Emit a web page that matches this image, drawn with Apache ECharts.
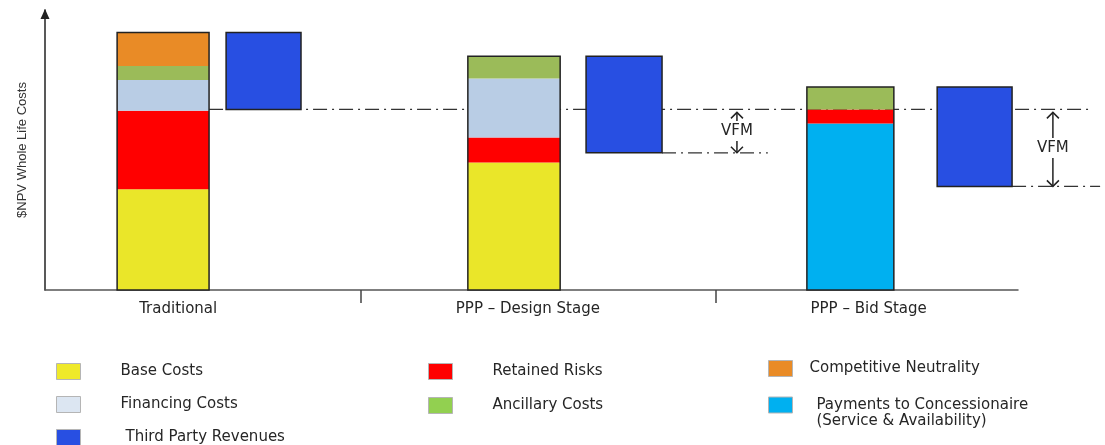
<!DOCTYPE html>
<html>
<head>
<meta charset="utf-8">
<script src="https://cdn.jsdelivr.net/npm/echarts@6/dist/echarts.min.js"></script>
<style>
  html, body { margin: 0; padding: 0; background: #fff; }
  #chart { width: 1105px; height: 445px; }
</style>
</head>
<body>
<div id="chart"></div>
<script>
// Whole-life cost build-up (NPV) for each procurement option
const stages = ['Traditional', 'PPP – Design Stage', 'PPP – Bid Stage'];
const baseCosts = [36, 45.5, 0];
const concessionPayments = [0, 0, 59.5];
const retainedRisks = [28, 9, 5];
const financingCosts = [11, 21, 0];
const ancillaryCosts = [5, 8, 8];
const competitiveNeutrality = [12, 0, 0];
const thirdPartyRevenues = [27.5, 34.5, 35.5];
const vfmLabel = 'VFM';
const yTitle = '$NPV Whole Life Costs';

// ---- layout (fractions of each stage slot on the x scale) ----
const costSlot = [[0.313, 0.572], [0.301, 0.561], [0.256, 0.501]];
const revenueSlot = [[0.620, 0.831], [0.634, 0.848], [0.623, 0.834]];
const labelAt = [0.485, 1.47, 2.43];
const netLineEnd = [3.048, 2.146, 3.082];
const vfmAt = [null, 2.059, 2.949];

const FONT = 'DejaVu Sans';
const INK = '#262626';
const OUTLINE = '#222';

const PAYMENTS = 'Payments to Concessionaire\n(Service & Availability)';
const components = [
  { name: 'Base Costs', values: baseCosts, color: '#EAE629' },
  { name: PAYMENTS, values: concessionPayments, color: '#00B0F0' },
  { name: 'Retained Risks', values: retainedRisks, color: '#FF0000' },
  { name: 'Financing Costs', values: financingCosts, color: '#B9CDE5' },
  { name: 'Ancillary Costs', values: ancillaryCosts, color: '#9BBB59' },
  { name: 'Competitive Neutrality', values: competitiveNeutrality, color: '#E98B26' }
];
const REVENUE_COLOR = '#284FE2';

const totals = stages.map((_, i) => components.reduce((s, c) => s + c.values[i], 0));
const netCost = totals.map((t, i) => t - thirdPartyRevenues[i]);
const psc = netCost[0];

function bottomOf(k, i) {
  let s = 0;
  for (let j = 0; j < k; j++) s += components[j].values[i];
  return s;
}

function rectBetween(api, x0, x1, y0, y1) {
  const a = api.coord([x0, y0]);
  const b = api.coord([x1, y1]);
  return { x: a[0], y: b[1], width: b[0] - a[0], height: a[1] - b[1] };
}

const stageData = stages.map((_, i) => [i]);
const dashStyle = { stroke: '#333', lineWidth: 1.3, lineDash: [14, 5, 2, 5] };

// one series per cost component, stacked inside each stage's cost bar
const componentSeries = components.map((c, k) => ({
  type: 'custom',
  name: c.name,
  xAxisIndex: 1,
  yAxisIndex: 1,
  z: 3,
  itemStyle: { color: c.color },
  data: stageData,
  renderItem: (params, api) => {
    const i = params.dataIndex;
    const v = c.values[i];
    if (!v) return null;
    const b = bottomOf(k, i);
    return {
      type: 'rect',
      shape: rectBetween(api, i + costSlot[i][0], i + costSlot[i][1], b, b + v),
      style: { fill: c.color }
    };
  }
}));

const outlineSeries = {
  type: 'custom',
  xAxisIndex: 1,
  yAxisIndex: 1,
  z: 4,
  silent: true,
  data: stageData,
  renderItem: (params, api) => {
    const i = params.dataIndex;
    return {
      type: 'rect',
      shape: rectBetween(api, i + costSlot[i][0], i + costSlot[i][1], 0, totals[i]),
      style: { fill: 'none', stroke: OUTLINE, lineWidth: 1.5 }
    };
  }
};

const revenueSeries = {
  type: 'custom',
  name: 'Third Party Revenues',
  xAxisIndex: 1,
  yAxisIndex: 1,
  z: 4,
  itemStyle: { color: REVENUE_COLOR },
  data: stageData,
  renderItem: (params, api) => {
    const i = params.dataIndex;
    return {
      type: 'rect',
      shape: rectBetween(api, i + revenueSlot[i][0], i + revenueSlot[i][1],
        netCost[i], totals[i]),
      style: { fill: REVENUE_COLOR, stroke: OUTLINE, lineWidth: 1.5 }
    };
  }
};

// net-cost reference lines and value-for-money markers
const referenceSeries = {
  type: 'custom',
  xAxisIndex: 1,
  yAxisIndex: 1,
  z: 1,
  silent: true,
  data: stageData,
  renderItem: (params, api) => {
    const i = params.dataIndex;
    const startX = i === 0 ? i + costSlot[i][1] : i + revenueSlot[i][1];
    const p0 = api.coord([startX, netCost[i]]);
    const p1 = api.coord([netLineEnd[i], netCost[i]]);
    const children = [{
      type: 'line',
      shape: { x1: p0[0], y1: p0[1], x2: p1[0], y2: p1[1] },
      style: dashStyle
    }];
    if (vfmAt[i] != null) {
      const top = api.coord([vfmAt[i], psc]);
      const bot = api.coord([vfmAt[i], netCost[i]]);
      const x = top[0];
      const mid = (top[1] + bot[1]) / 2;
      const upTip = top[1] + 3;
      const downTip = bot[1];
      const h = 6;
      const arrow = { stroke: '#222', lineWidth: 1.5, fill: 'none' };
      children.push(
        { type: 'line', shape: { x1: x, y1: mid - 10, x2: x, y2: upTip }, style: arrow },
        { type: 'polyline', shape: { points: [[x - h, upTip + h], [x, upTip], [x + h, upTip + h]] }, style: arrow },
        { type: 'line', shape: { x1: x, y1: mid + 10, x2: x, y2: downTip }, style: arrow },
        { type: 'polyline', shape: { points: [[x - h, downTip - h], [x, downTip], [x + h, downTip - h]] }, style: arrow },
        {
          type: 'text',
          style: {
            text: vfmLabel, x: x, y: mid, align: 'center', verticalAlign: 'middle',
            fill: INK, font: '15px ' + FONT
          }
        }
      );
    }
    return { type: 'group', children };
  }
};

function legendItem(name, color, gap) {
  return {
    name,
    itemStyle: { color, borderColor: '#b5b5b5', borderWidth: 1 },
    textStyle: { padding: [0, 0, 0, gap] }
  };
}

const legendCommon = {
  orient: 'vertical',
  icon: 'rect',
  itemWidth: 24,
  itemHeight: 16,
  padding: 0,
  height: 200,
  selectedMode: false,
  textStyle: { fontFamily: FONT, fontSize: 15, color: INK, lineHeight: 16 }
};

const option = {
  backgroundColor: '#fff',
  animation: false,
  grid: [
    { left: 45, right: 87, top: 10, bottom: 155 },
    { left: 6, right: 34, top: 10, bottom: 155 }
  ],
  xAxis: [
    {
      gridIndex: 0, type: 'value', min: 0, max: 1,
      axisLine: { show: true, lineStyle: { color: '#555', width: 1.5 } },
      axisTick: { show: false }, axisLabel: { show: false }, splitLine: { show: false }
    },
    {
      gridIndex: 1, type: 'value', min: 0, max: 3,
      axisLine: { show: false },
      axisTick: { show: true, customValues: [1, 2], length: 13, lineStyle: { color: '#444', width: 1.5 } },
      axisLabel: {
        customValues: labelAt,
        formatter: (v) => stages[Math.floor(v)],
        margin: 12,
        fontFamily: FONT, fontSize: 15, color: INK
      },
      splitLine: { show: false }
    }
  ],
  yAxis: [
    {
      gridIndex: 0, type: 'value', min: 0, max: 100,
      name: yTitle, nameLocation: 'middle', nameGap: 16, nameRotate: 90,
      nameTextStyle: { fontFamily: 'Liberation Sans Narrow, Liberation Sans', fontSize: 13, color: '#333' },
      axisLine: {
        show: true, symbol: ['none', 'triangle'], symbolSize: [9, 10], symbolOffset: [0, -4],
        lineStyle: { color: '#222', width: 1.5 }
      },
      axisTick: { show: false }, axisLabel: { show: false }, splitLine: { show: false }
    },
    {
      gridIndex: 1, type: 'value', min: 0, max: 100, show: false
    }
  ],
  legend: [
    Object.assign({}, legendCommon, {
      left: 56, top: 363, itemGap: 16,
      data: [
        legendItem('Base Costs', '#EFE92A', 35),
        legendItem('Financing Costs', '#DCE6F2', 35),
        legendItem('Third Party Revenues', REVENUE_COLOR, 40)
      ]
    }),
    Object.assign({}, legendCommon, {
      left: 428, top: 363, itemGap: 17,
      data: [
        legendItem('Retained Risks', '#FF0000', 35),
        legendItem('Ancillary Costs', '#92D050', 35)
      ]
    }),
    Object.assign({}, legendCommon, {
      left: 768, top: 360, itemGap: 4,
      // the two-line entry starts level with its swatch
      formatter: (name) => (name === PAYMENTS ? '\n' + name : name),
      data: [
        legendItem('Competitive Neutrality', '#E98B26', 12),
        legendItem(PAYMENTS, '#00B0F0', 19)
      ]
    })
  ],
  series: [referenceSeries].concat(componentSeries, [outlineSeries, revenueSeries])
};

const chart = echarts.init(document.getElementById('chart'), null, { renderer: 'canvas' });
chart.setOption(option);
</script>
</body>
</html>
